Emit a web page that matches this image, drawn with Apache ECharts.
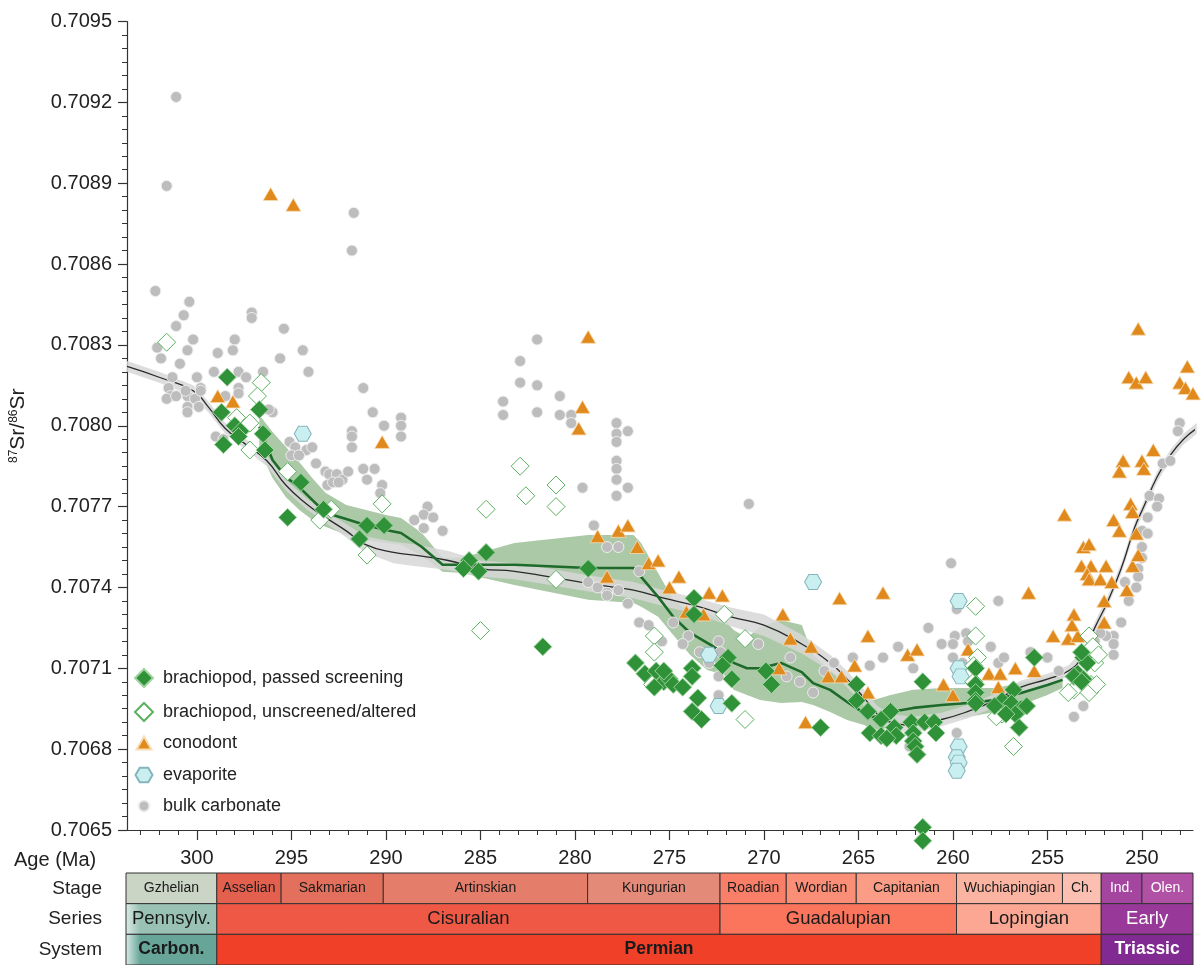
<!DOCTYPE html>
<html><head><meta charset="utf-8">
<script src="https://cdn.jsdelivr.net/npm/echarts@6/dist/echarts.min.js"></script>
<style>html,body{margin:0;padding:0;background:#fff}#c{width:1201px;height:965px}</style>
</head><body><div id="c"></div>
<script>
// ---------- DATA ----------
const bulkCarbonate = [[301.1,.70922],[301.6,.70889],[291.7,.70879],[291.8,.70865],[302.2,.70850],[300.4,.70846],[300.7,.70841],[301.1,.70837],[300.2,.70832],[297.1,.70842],[297.1,.70840],[295.4,.70836],[298.0,.70832],[298.9,.70827],[298.1,.70828],[300.5,.70828],[302.1,.70829],[301.9,.70825],[300.9,.70823],[295.6,.70825],[294.4,.70828],[294.1,.70820],[291.2,.70814],[301.3,.70818],[300.0,.70818],[299.1,.70820],[297.8,.70820],[297.4,.70818],[296.5,.70820],[299.8,.70814],[301.5,.70814],[301.4,.70811],[301.6,.70810],[301.1,.70811],[300.5,.70811],[300.1,.70810],[300.5,.70807],[299.9,.70807],[297.8,.70814],[296.0,.70805],[290.7,.70805],[300.5,.70805],[300.6,.70813],[299.8,.70813],[299.0,.70796],[298.6,.70795],[297.8,.70812],[296.2,.70806],[298.5,.70811],[290.1,.70800],[289.2,.70803],[289.2,.70800],[289.2,.70796],[291.8,.70798],[291.8,.70796],[291.8,.70792],[291.2,.70784],[291.0,.70780],[290.2,.70778],[293.7,.70786],[293.2,.70783],[293.0,.70782],[292.6,.70782],[292.3,.70780],[292.0,.70783],[293.1,.70778],[292.8,.70779],[292.5,.70779],[295.1,.70794],[294.8,.70792],[294.2,.70791],[293.9,.70792],[295.0,.70789],[294.6,.70789],[290.3,.70775],[290.6,.70784],[282.0,.70832],[282.9,.70824],[282.9,.70816],[282.0,.70815],[280.8,.70811],[283.8,.70809],[283.8,.70804],[282.0,.70805],[280.8,.70804],[280.2,.70804],[280.2,.70801],[277.8,.70801],[277.8,.70797],[277.8,.70794],[277.2,.70798],[277.8,.70787],[277.8,.70784],[277.8,.70780],[277.8,.70774],[277.2,.70777],[279.6,.70777],[270.8,.70771],[287.8,.70770],[288.0,.70767],[288.5,.70765],[287.5,.70766],[288.0,.70762],[287.0,.70761],[279.0,.70763],[278.3,.70755],[277.7,.70755],[279.3,.70742],[278.8,.70740],[278.3,.70738],[277.7,.70739],[277.2,.70734],[278.3,.70737],[276.6,.70746],[276.6,.70727],[276.1,.70726],[275.4,.70720],[274.8,.70727],[274.0,.70722],[274.3,.70719],[273.4,.70716],[272.9,.70712],[272.4,.70720],[272.3,.70716],[272.4,.70700],[272.4,.70707],[270.3,.70719],[268.8,.70707],[268.6,.70714],[268.1,.70705],[247.1,.70808],[248.0,.70801],[248.1,.70798],[248.9,.70786],[248.5,.70787],[249.6,.70774],[249.1,.70773],[249.2,.70770],[249.7,.70766],[250.0,.70761],[249.7,.70760],[250.0,.70755],[250.0,.70751],[250.2,.70747],[250.2,.70744],[250.3,.70740],[250.7,.70735],[250.9,.70742],[251.1,.70727],[251.5,.70722],[251.9,.70722],[251.5,.70719],[251.5,.70715],[252.2,.70723],[252.5,.70720],[252.4,.70717],[253.6,.70692],[253.1,.70696],[254.4,.70709],[255.0,.70714],[257.6,.70735],[258.0,.70718],[257.6,.70712],[257.3,.70714],[260.1,.70749],[259.8,.70732],[259.9,.70722],[260.0,.70719],[259.3,.70723],[259.2,.70720],[260.0,.70714],[259.5,.70712],[261.3,.70725],[260.6,.70719],[262.1,.70710],[263.7,.70714],[262.9,.70718],[264.4,.70711],[265.3,.70714],[266.3,.70712],[266.8,.70709],[267.4,.70701],[259.8,.70686],[262.3,.70681],[255.9,.70716]];

const conodont = [[296.1,.70886],[294.9,.70882],[298.9,.70811],[298.1,.70809],[290.2,.70794],[279.3,.70833],[279.6,.70807],[279.8,.70799],[278.8,.70759],[277.7,.70761],[277.2,.70763],[276.7,.70755],[278.3,.70744],[276.1,.70749],[275.6,.70750],[274.5,.70744],[275.0,.70740],[272.9,.70738],[272.2,.70737],[274.1,.70731],[273.2,.70730],[269.0,.70730],[268.6,.70721],[269.2,.70710],[267.5,.70718],[266.6,.70707],[265.9,.70707],[265.2,.70711],[264.5,.70701],[267.8,.70690],[266.0,.70736],[263.7,.70738],[264.5,.70722],[262.4,.70715],[261.9,.70717],[260.5,.70704],[260.0,.70700],[256.0,.70738],[259.2,.70717],[258.1,.70708],[257.5,.70708],[256.7,.70710],[255.7,.70709],[257.6,.70703],[254.7,.70722],[253.9,.70721],[253.4,.70722],[253.6,.70730],[254.1,.70767],[253.1,.70755],[252.8,.70756],[253.2,.70748],[252.7,.70748],[251.9,.70748],[252.9,.70745],[252.8,.70743],[252.2,.70743],[251.6,.70742],[250.8,.70739],[250.5,.70748],[250.2,.70752],[252.0,.70735],[252.0,.70727],[250.6,.70771],[250.5,.70768],[251.5,.70765],[251.2,.70761],[251.0,.70787],[251.2,.70783],[250.0,.70787],[249.9,.70784],[249.4,.70791],[250.2,.70836],[250.7,.70818],[250.3,.70816],[249.8,.70818],[247.6,.70822],[248.0,.70816],[247.7,.70814],[247.3,.70812],[250.3,.70760],[253.7,.70726]];

const evaporite = [[294.4,.70797],[272.9,.70715],[272.4,.70696],[267.4,.70742],[259.7,.70735],[259.7,.70710],[259.6,.70707],[259.7,.70681],[259.8,.70677],[259.7,.70675],[259.8,.70672]];

const brachUnscreened = [[301.6,.70831],[296.6,.70816],[296.8,.70811],[297.9,.70803],[297.2,.70801],[297.2,.70791],[295.2,.70783],[293.5,.70765],[292.9,.70769],[290.2,.70771],[291.0,.70752],[282.9,.70785],[282.6,.70774],[281.0,.70778],[281.0,.70770],[284.7,.70769],[285.0,.70724],[281.0,.70743],[275.8,.70722],[275.8,.70716],[275.9,.70704],[272.1,.70730],[271.0,.70721],[271.0,.70691],[258.8,.70733],[258.8,.70722],[258.7,.70714],[258.9,.70711],[258.9,.70705],[256.8,.70681],[257.4,.70693],[257.7,.70692],[252.8,.70722],[252.6,.70718],[252.5,.70712],[252.7,.70704],[253.6,.70702],[253.9,.70701],[252.8,.70701],[252.4,.70704],[252.3,.70715]];

const brachPassed = [[298.4,.70818],[298.7,.70805],[298.6,.70793],[298.0,.70800],[297.7,.70798],[297.8,.70796],[296.7,.70806],[296.5,.70797],[296.4,.70791],[294.5,.70779],[295.2,.70766],[293.3,.70769],[291.0,.70763],[290.1,.70763],[291.4,.70758],[285.6,.70750],[285.9,.70747],[285.1,.70746],[284.7,.70753],[279.3,.70747],[281.7,.70718],[273.7,.70736],[273.7,.70730],[276.8,.70712],[276.3,.70708],[275.7,.70709],[275.3,.70705],[275.0,.70706],[274.8,.70704],[274.3,.70703],[273.8,.70710],[273.8,.70707],[275.8,.70703],[275.3,.70709],[273.5,.70699],[273.8,.70694],[273.3,.70691],[271.9,.70714],[272.2,.70711],[271.7,.70706],[271.7,.70697],[269.9,.70709],[269.6,.70704],[261.6,.70705],[267.0,.70688],[265.1,.70704],[265.1,.70698],[264.5,.70694],[263.3,.70694],[263.8,.70691],[264.4,.70686],[263.8,.70685],[263.1,.70688],[263.0,.70685],[262.2,.70690],[262.1,.70686],[262.1,.70683],[262.0,.70681],[261.9,.70678],[261.5,.70690],[261.0,.70690],[260.9,.70686],[263.5,.70684],[261.6,.70651],[261.6,.70646],[258.8,.70710],[258.8,.70704],[258.8,.70701],[258.8,.70698],[258.8,.70697],[255.7,.70714],[256.8,.70702],[257.4,.70698],[256.9,.70697],[256.4,.70695],[256.7,.70693],[256.5,.70688],[257.2,.70693],[257.8,.70696],[256.1,.70696],[253.1,.70714],[252.9,.70712],[253.4,.70708],[253.1,.70706],[253.6,.70707],[253.2,.70705],[253.2,.70716]];

// global trend (black line) and its band half-width
const trendAge = [303.7,302.0,300.2,299.4,298.5,297.4,296.3,295.3,294.2,293.2,292.1,291.1,289.6,288.5,286.7,285.0,283.2,281.4,279.7,277.9,276.9,275.3,273.5,271.7,270.0,268.0,266.5,265.6,264.7,264.0,263.3,262.1,260.6,259.2,257.8,256.4,255.0,253.9,253.2,252.5,251.8,251.1,250.4,249.9,249.2,248.5,247.8,247.1];
const trendSr = [.70822,.70818,.70813,.70807,.70799,.70793,.70787,.70778,.70771,.70766,.70761,.70756,.70753,.70752,.70750,.70747,.70746,.70744,.70742,.70740,.70739,.70736,.70733,.70729,.70726,.70719,.70712,.70706,.70699,.70693,.70690,.70689,.70691,.70694,.70698,.70703,.70706,.70709,.70714,.70725,.70735,.70747,.70762,.70770,.70781,.70789,.70795,.70799];
const trendHalfWidth = [.00002,.00002,.00002,.00002,.00002,.00002,.00002,.00002,.00002,.00002,.000025,.00003,.00004,.00004,.000035,.00003,.00003,.00003,.00003,.00003,.00003,.00003,.00003,.000035,.00004,.000035,.00003,.00003,.00003,.00003,.00003,.00003,.000025,.000025,.000025,.000025,.00002,.00002,.00002,.00002,.00002,.00002,.00002,.00002,.00002,.00002,.00002,.00002];

// brachiopod trend (green line) and its band
const brAge = [296.7,296.5,296.0,295.3,294.6,293.9,293.2,292.1,291.1,290.0,289.2,288.1,287.0,286.0,283.2,279.3,276.9,276.5,275.6,274.8,273.9,273.0,272.1,271.6,270.9,270.2,269.1,268.0,267.4,266.5,265.6,264.7,264.2,263.3,262.1,260.6,259.2,257.8,256.4,255.0,254.2];
const brSr = [.707996,.707959,.707873,.707810,.707773,.707725,.707677,.707654,.707632,.707613,.707602,.707550,.707484,.707484,.707484,.707472,.707472,.707439,.707365,.707291,.707231,.707194,.707157,.707120,.707100,.707100,.707120,.707086,.707045,.707020,.706975,.706934,.706919,.706938,.706953,.706964,.706971,.706982,.707008,.707038,.707057];
const brUpper = [.708040,.708022,.707977,.707922,.707866,.707806,.707751,.707706,.707688,.707669,.707658,.707602,.707510,.707510,.707565,.707595,.707595,.707565,.707454,.707354,.707309,.707305,.707279,.707242,.707213,.707253,.707279,.707261,.707149,.707094,.707045,.706994,.706982,.707001,.707020,.707027,.707027,.707027,.707045,.707068,.707083];
const brLower = [.707910,.707881,.707806,.707736,.707688,.707651,.707625,.707595,.707576,.707565,.707558,.707517,.707458,.707454,.707409,.707354,.707342,.707328,.707291,.707224,.707149,.707094,.707075,.707020,.707001,.706982,.706971,.706975,.706964,.706938,.706908,.706890,.706871,.706879,.706901,.706908,.706919,.706938,.706964,.707001,.707027];

// axis ticks
const xMajorTicks = [300,295,290,285,280,275,270,265,260,255,250];
const xMinorTicks = [303,302,301,299,298,297,296,294,293,292,291,289,288,287,286,284,283,282,281,279,278,277,276,274,273,272,271,269,268,267,266,264,263,262,261,259,258,257,256,254,253,252,251,249,248];

// geologic time scale
const rowNames = ['Stage','Series','System'];
const stageNames = ['Gzhelian','Asselian','Sakmarian','Artinskian','Kungurian','Roadian','Wordian','Capitanian','Wuchiapingian','Ch.','Ind.','Olen.'];
const stageBounds = [303.7,298.9,295.5,290.1,279.3,272.3,268.8,265.1,259.8,254.2,252.15,250.0,247.3];
const seriesNames = ['Pennsylv.','Cisuralian','Guadalupian','Lopingian','Early'];
const seriesBounds = [303.7,298.9,272.3,259.8,252.15,247.3];
const systemNames = ['Carbon.','Permian','Triassic'];
const systemBounds = [303.7,298.9,252.15,247.3];

// ---------- STYLES ----------
const stageColors = ['#cbd5c6','#e3604f','#e36f5d','#e47d6a','#e48a78','#fa7f68','#fa8e77','#fb9c86','#fcb4a2','#fcc0b2','#a4469f','#b051a5'];
const seriesColors = ['#99c2b5','#ef5845','#fb745c','#fba794','#983999'];
const systemColors = ['#67a599','#f04028','#812b92'];
const whiteText = {'Ind.':1,'Olen.':1,'Early':1,'Triassic':1};
const FONT = '"Liberation Sans", Arial, Helvetica, sans-serif';

const tsData = [], tsLabel = [], tsFill = [];
function addRow(names, bounds, colors, row) {
  for (let i = 0; i < names.length; i++) {
    tsData.push([bounds[i], bounds[i+1], row]);
    tsLabel.push(names[i]);
    tsFill.push(colors[i]);
  }
}
addRow(stageNames, stageBounds, stageColors, 0);
addRow(seriesNames, seriesBounds, seriesColors, 1);
addRow(systemNames, systemBounds, systemColors, 2);

function bandPolygon(ages, lo, hi, fill) {
  return function (params, api) {
    if (params.dataIndex !== 0) return null;
    const pts = [];
    for (let i = 0; i < ages.length; i++) pts.push(api.coord([ages[i], hi[i]]));
    for (let i = ages.length - 1; i >= 0; i--) pts.push(api.coord([ages[i], lo[i]]));
    return {type: 'polygon', shape: {points: pts}, style: {fill: fill}};
  };
}
const trendLo = trendSr.map((v, i) => v - trendHalfWidth[i]);
const trendHi = trendSr.map((v, i) => v + trendHalfWidth[i]);

const hexPath = 'path://M-1,0 L-0.5,-0.866 L0.5,-0.866 L1,0 L0.5,0.866 L-0.5,0.866 Z';

const chart = echarts.init(document.getElementById('c'), null, {renderer: 'canvas'});

function legendFor(name, w, h, top) {
  const left = 143 - w / 2;
  return {
    data: [name], orient: 'vertical', left: left, top: top, padding: 0,
    itemWidth: w, itemHeight: h, selectedMode: false,
    textStyle: {fontSize: 18, color: '#222', fontFamily: FONT, padding: [0, 0, 0, 14 - w / 2]}
  };
}

const option = {
  animation: false,
  backgroundColor: '#fff',
  textStyle: {fontFamily: FONT},
  grid: [
    {left: 126, right: 8, top: 21.5, bottom: 135},
    {left: 126, right: 8, top: 873, height: 93}
  ],
  xAxis: [
    {type: 'value', gridIndex: 0, position: 'bottom', min: 247.3, max: 303.7, inverse: true,
     axisLine: {show: true, lineStyle: {color: '#333', width: 1.2}},
     axisTick: {show: true, length: 10, lineStyle: {color: '#333', width: 1.2}, customValues: xMajorTicks},
     axisLabel: {show: true, fontSize: 20, color: '#222', margin: 18, customValues: xMajorTicks},
     splitLine: {show: false}},
    {type: 'value', gridIndex: 0, position: 'bottom', offset: 0, min: 247.3, max: 303.7, inverse: true,
     axisLine: {show: false},
     axisTick: {show: true, length: 5, lineStyle: {color: '#333', width: 1}, customValues: xMinorTicks},
     axisLabel: {show: false}, splitLine: {show: false}},
    {type: 'value', gridIndex: 1, min: 247.3, max: 303.7, inverse: true, show: false}
  ],
  yAxis: [
    {type: 'value', gridIndex: 0, min: 0.7065, max: 0.7095, interval: 0.0003,
     axisLine: {show: true, lineStyle: {color: '#333', width: 1.2}},
     axisTick: {show: true, length: 9, lineStyle: {color: '#333', width: 1.2}},
     minorTick: {show: true, splitNumber: 6, length: 5, lineStyle: {color: '#333', width: 1}},
     axisLabel: {fontSize: 20, color: '#222', margin: 15, formatter: v => v.toFixed(4)},
     splitLine: {show: false},
     name: '{sup|87}{b|Sr/}{sup|86}{b|Sr}', nameLocation: 'middle', nameGap: 98, nameRotate: 90,
     nameTextStyle: {rich: {sup: {fontSize: 12, verticalAlign: 'top', color: '#222', fontFamily: FONT},
                            b: {fontSize: 21, color: '#222', fontFamily: FONT}}}},
    {type: 'category', gridIndex: 1, data: rowNames, inverse: true,
     axisLine: {show: false}, axisTick: {show: false},
     axisLabel: {fontSize: 19, color: '#222', margin: 24}}
  ],
  legend: [
    legendFor('brachiopod, passed screening', 18, 18, 668),
    legendFor('brachiopod, unscreened/altered', 18, 18, 702),
    legendFor('conodont', 15, 13, 734),
    legendFor('evaporite', 17, 15, 766),
    legendFor('bulk carbonate', 11, 11, 797)
  ],
  graphic: [
    {type: 'text', left: 14, top: 850, style: {text: 'Age (Ma)', fontSize: 20, fill: '#222', fontFamily: FONT}}
  ],
  series: [
    {type: 'custom', name: 'brBand', xAxisIndex: 0, yAxisIndex: 0, z: 1, silent: true,
     data: [[brAge[0], brSr[0]]], renderItem: bandPolygon(brAge, brLower, brUpper, 'rgba(150,188,145,0.8)')},
    {type: 'custom', name: 'trendBand', xAxisIndex: 0, yAxisIndex: 0, z: 1, silent: true,
     data: [[trendAge[0], trendSr[0]]], renderItem: bandPolygon(trendAge, trendLo, trendHi, 'rgba(215,215,215,0.85)')},
    {type: 'line', name: 'trend', xAxisIndex: 0, yAxisIndex: 0, z: 2, smooth: true, showSymbol: false, silent: true,
     data: trendAge.map((a, i) => [a, trendSr[i]]), lineStyle: {color: '#2a2a2a', width: 1.3}},
    {type: 'line', name: 'brTrend', xAxisIndex: 0, yAxisIndex: 0, z: 2, smooth: false, showSymbol: false, silent: true,
     data: brAge.map((a, i) => [a, brSr[i]]), lineStyle: {color: '#1d6a2a', width: 2.6}},
    {type: 'scatter', name: 'bulk carbonate', xAxisIndex: 0, yAxisIndex: 0, z: 3,
     symbol: 'circle', symbolSize: 11, data: bulkCarbonate,
     itemStyle: {color: '#bdbdbd', borderColor: '#eeeeee', borderWidth: 1, opacity: 1}},
    {type: 'scatter', name: 'evaporite', xAxisIndex: 0, yAxisIndex: 0, z: 4,
     symbol: hexPath, symbolSize: [17, 15], data: evaporite,
     itemStyle: {color: '#c9eff1', borderColor: '#86b6bb', borderWidth: 1, opacity: 1}},
    {type: 'scatter', name: 'conodont', xAxisIndex: 0, yAxisIndex: 0, z: 5,
     symbol: 'triangle', symbolSize: [15, 13], data: conodont,
     itemStyle: {color: '#e08a1e', borderColor: '#f7dcb4', borderWidth: 0.8, opacity: 1}},
    {type: 'scatter', name: 'brachiopod, unscreened/altered', xAxisIndex: 0, yAxisIndex: 0, z: 6,
     symbol: 'diamond', symbolSize: 18, data: brachUnscreened,
     itemStyle: {color: '#ffffff', borderColor: '#5cb160', borderWidth: 1, opacity: 1}},
    {type: 'scatter', name: 'brachiopod, passed screening', xAxisIndex: 0, yAxisIndex: 0, z: 7, clip: false,
     symbol: 'diamond', symbolSize: 18, data: brachPassed,
     itemStyle: {color: '#2f9238', borderColor: '#9fd39f', borderWidth: 1, opacity: 1}},
    {type: 'custom', name: 'timescale', xAxisIndex: 2, yAxisIndex: 1, silent: true,
     encode: {x: [0, 1], y: 2},
     data: tsData,
     renderItem: function (params, api) {
       const i = params.dataIndex;
       const row = api.value(2);
       const p1 = api.coord([api.value(0), row]);
       const p2 = api.coord([api.value(1), row]);
       const h = api.size([0, 1])[1];
       const x = Math.min(p1[0], p2[0]);
       const w = Math.abs(p2[0] - p1[0]);
       const y = p1[1] - h / 2;
       const name = tsLabel[i];
       let fill = tsFill[i];
       if (name === 'Carbon.' || name === 'Pennsylv.') {
         fill = new echarts.graphic.LinearGradient(0, 0, 1, 0, [
           {offset: 0, color: '#dcebe6'}, {offset: 0.16, color: tsFill[i]}, {offset: 1, color: tsFill[i]}]);
       }
       const fs = row === 0 ? 14 : (row === 1 ? 18.5 : 17.5);
       const fw = row === 2 ? 'bold' : 'normal';
       return {
         type: 'group',
         children: [
           {type: 'rect', shape: {x: x, y: y, width: w, height: h},
            style: {fill: fill, stroke: '#333', lineWidth: 1}},
           {type: 'text', x: x + w / 2, y: y + h / 2,
            style: {text: name, fontSize: fs, fontWeight: fw, fontFamily: FONT,
                    fill: whiteText[name] ? '#fff' : '#1a1a1a', align: 'center', verticalAlign: 'middle'}}
         ]
       };
     }}
  ]
};
chart.setOption(option);
</script></body></html>
